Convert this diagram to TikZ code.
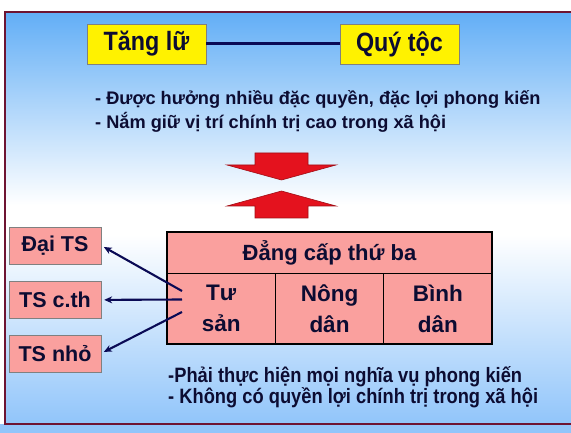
\documentclass[tikz,border=0pt]{standalone}
\usepackage{fontspec}
\setmainfont{Liberation Sans}
\newfontfamily\narrowfont{Liberation Sans}[FakeStretch=0.88]
\usepackage{tikz}
\usetikzlibrary{positioning,arrows.meta,calc}
\definecolor{skytop}{RGB}{98,174,246}
\definecolor{skybot}{RGB}{145,197,250}
\definecolor{frameline}{RGB}{110,20,50}
\definecolor{inkblue}{RGB}{12,12,50}
\definecolor{salmon}{RGB}{250,160,158}
\definecolor{arrowred}{RGB}{228,18,30}
\definecolor{navyline}{RGB}{10,10,85}
\tikzstyle{titlebox}=[draw=gray, fill=yellow, minimum width=119pt, minimum height=40pt, inner sep=0pt, text=inkblue, font=\narrowfont\bfseries\fontsize{26.5}{30}\selectfont]
\tikzstyle{note}=[inner sep=0pt, text=inkblue, font=\bfseries\fontsize{18.2}{22}\selectfont]
\tikzstyle{duty}=[inner sep=0pt, text=inkblue, font=\narrowfont\bfseries\fontsize{20.8}{24}\selectfont]
\tikzstyle{groupbox}=[draw=gray, fill=salmon, minimum width=92pt, minimum height=37pt, inner sep=0pt, text=inkblue, font=\bfseries\fontsize{21.5}{25}\selectfont]
\tikzstyle{castehead}=[draw=black, fill=salmon, minimum width=325pt, minimum height=41pt, inner sep=0pt, outer sep=0pt, text=inkblue, font=\bfseries\fontsize{22}{26}\selectfont]
\tikzstyle{castecell}=[draw=black, fill=salmon, minimum width=325pt/3, minimum height=71pt, inner sep=0pt, outer sep=0pt, align=center, text=inkblue, font=\bfseries\fontsize{22.5}{31}\selectfont]
\tikzstyle{linkarrow}=[navyline, line width=2.1pt, -{Stealth[length=8pt,width=7pt]}, shorten >=3pt]
\newcommand{\redArrow}[2]{
	\begin{scope}[shift={#1}, yscale=#2]
		\filldraw[fill=arrowred, draw=arrowred!70!black, line width=0.6pt] (-26.5,0) -- (26.5,0) -- (26.5,12) -- (54.5,12) -- (0,27) -- (-54.5,12) -- (-26.5,12) -- cycle;
	\end{scope}
}

\begin{document}
\begin{tikzpicture}[x=1pt, y=-1pt]
	\useasboundingbox (0,0) rectangle (571,433);
	% background and frame
	\fill[white] (0,0) rectangle (571,433);
	\fill[skybot] (0,424) rectangle (571,433);
	\shade[top color=skytop, bottom color=white] (5,12) rectangle (571,205);
	\fill[white] (5,205) rectangle (571,235);
	\shade[top color=white, bottom color=skybot] (5,235) rectangle (571,424);
	\draw[frameline, line width=1.5pt] (573,12) -- (5,12) -- (5,424) -- (573,424);
	% upper orders
	\node[titlebox] (tang) at (146.5,44) {Tăng lữ};
	\node[titlebox] (quy) at (399.5,44) {Quý tộc};
	\draw[navyline, line width=3pt] (tang) -- (quy);
	\node[note, anchor=base west] (priv1) at (95,105) {- Được hưởng nhiều đặc quyền, đặc lợi phong kiến};
	\node[note, anchor=base west] (priv2) at (95,129) {- Nắm giữ vị trí chính trị cao trong xã hội};
	% opposing arrows
	\redArrow{(281.5,153)}{1}
	\redArrow{(281.5,218)}{-1}
	% third estate
	\node[castehead] (caste) at (329.5,252.5) {Đẳng cấp thứ ba};
	\node[castecell, anchor=north west] (tusan) at (caste.south west) {Tư\\sản};
	\node[castecell, right=0pt of tusan] (nong) {Nông\\dân};
	\node[castecell, right=0pt of nong] (binh) {Bình\\dân};
	\draw[line width=2pt] (caste.north west) rectangle (binh.south east);
	% bourgeois groups
	\node[groupbox] (dai) at (55,245.5) {Đại TS};
	\node[groupbox, below=17pt of dai] (cth) {TS c.th};
	\node[groupbox, below=16pt of cth] (nho) {TS nhỏ};
	\coordinate (fromA) at (182,291);
	\coordinate (fromB) at (182,299.5);
	\coordinate (fromC) at (182,312);
	\draw[linkarrow] (fromA) -- (dai.east);
	\draw[linkarrow] (fromB) -- (cth.east);
	\draw[linkarrow] (fromC) -- (nho.east);
	% duties
	\node[duty, anchor=base west] (duty1) at (168,382) {-Phải thực hiện mọi nghĩa vụ phong kiến};
	\node[duty, anchor=base west] (duty2) at (168,403) {- Không có quyền lợi chính trị trong xã hội};
\end{tikzpicture}
\end{document}
